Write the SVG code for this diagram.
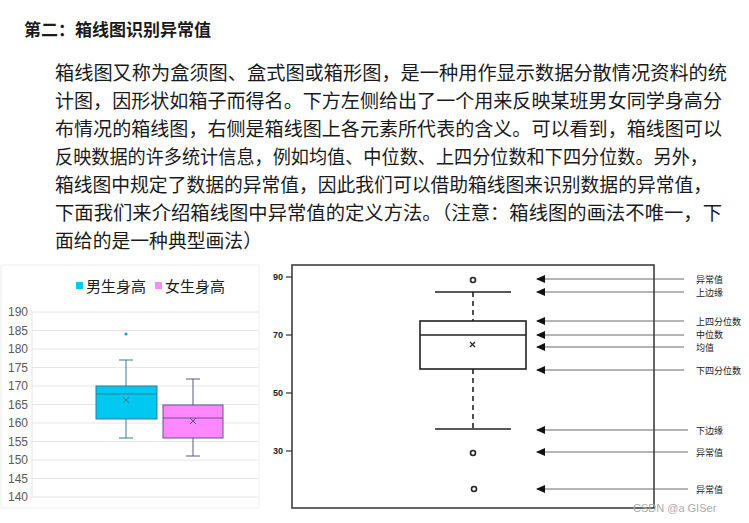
<svg xmlns="http://www.w3.org/2000/svg" width="749" height="523" viewBox="0 0 749 523">
<style>
.t{font-family:"Noto Sans CJK SC","Liberation Sans",sans-serif;fill:#1a1a1a}
.p{font-size:19px}
.ax{font-family:"Liberation Sans",sans-serif;font-size:12px;fill:#595959}
.ax2{font-family:"Liberation Sans",sans-serif;font-size:9px;fill:#222;font-weight:bold}
.lb{font-family:"Noto Sans CJK SC",sans-serif;font-size:9px;fill:#222}
.g{stroke:#e6e6e6;stroke-width:1}
.k{stroke:#222;fill:none;stroke-width:1.6}
</style>
<defs><marker id="ah" markerUnits="userSpaceOnUse" markerWidth="10" markerHeight="8" refX="8" refY="4" orient="auto"><path d="M9,4 L0,0 L0,8 Z" fill="#111"/></marker></defs>
<rect width="749" height="523" fill="#fff"/>
<g id="text">
<text class="t" x="24" y="36" font-size="17" font-weight="bold">第二：箱线图识别异常值</text>
<text class="t p" x="55" y="80" textLength="672" lengthAdjust="spacingAndGlyphs">箱线图又称为盒须图、盒式图或箱形图，是一种用作显示数据分散情况资料的统</text>
<text class="t p" x="55" y="108" textLength="667" lengthAdjust="spacingAndGlyphs">计图，因形状如箱子而得名。下方左侧给出了一个用来反映某班男女同学身高分</text>
<text class="t p" x="55" y="136" textLength="667" lengthAdjust="spacingAndGlyphs">布情况的箱线图，右侧是箱线图上各元素所代表的含义。可以看到，箱线图可以</text>
<text class="t p" x="55" y="164" textLength="653" lengthAdjust="spacingAndGlyphs">反映数据的许多统计信息，例如均值、中位数、上四分位数和下四分位数。另外，</text>
<text class="t p" x="55" y="192" textLength="657" lengthAdjust="spacingAndGlyphs">箱线图中规定了数据的异常值，因此我们可以借助箱线图来识别数据的异常值，</text>
<text class="t p" x="55" y="220" textLength="667" lengthAdjust="spacingAndGlyphs">下面我们来介绍箱线图中异常值的定义方法。（注意：箱线图的画法不唯一，下</text>
<text class="t p" x="55" y="248" textLength="207" lengthAdjust="spacingAndGlyphs">面给的是一种典型画法）</text>
</g>
<g id="left-chart">
<rect x="1" y="265" width="258" height="243" fill="#fff" stroke="#eee"/>
<rect x="76" y="282" width="7" height="7" fill="#00c8f0"/>
<text class="t" x="86" y="292" font-size="15" fill="#444">男生身高</text>
<rect x="155" y="282" width="7" height="7" fill="#ff88ff"/>
<text class="t" x="165" y="292" font-size="15" fill="#444">女生身高</text>
<g class="g">
<line x1="32" y1="312" x2="258" y2="312"/><line x1="32" y1="330.5" x2="258" y2="330.5"/><line x1="32" y1="349" x2="258" y2="349"/><line x1="32" y1="367.5" x2="258" y2="367.5"/><line x1="32" y1="386" x2="258" y2="386"/><line x1="32" y1="404.5" x2="258" y2="404.5"/><line x1="32" y1="423" x2="258" y2="423"/><line x1="32" y1="441.5" x2="258" y2="441.5"/><line x1="32" y1="460" x2="258" y2="460"/><line x1="32" y1="478.5" x2="258" y2="478.5"/><line x1="32" y1="497" x2="258" y2="497"/>
<line x1="32" y1="312" x2="32" y2="497"/>
</g>
<g class="ax" text-anchor="end">
<text x="28" y="316">190</text><text x="28" y="334.5">185</text><text x="28" y="353">180</text><text x="28" y="371.5">175</text><text x="28" y="390">170</text><text x="28" y="408.5">165</text><text x="28" y="427">160</text><text x="28" y="445.5">155</text><text x="28" y="464">150</text><text x="28" y="482.5">145</text><text x="28" y="501">140</text>
</g>
<g id="male" stroke="#3a7a90" stroke-width="1">
<line x1="126" y1="360" x2="126" y2="386"/><line x1="126" y1="419" x2="126" y2="438"/>
<line x1="119" y1="360" x2="133" y2="360"/><line x1="119" y1="438" x2="133" y2="438"/>
<rect x="96" y="386" width="61" height="33" fill="#00c8f0"/>
<line x1="96" y1="394" x2="157" y2="394"/>
<path d="M123,397 l6,6 M129,397 l-6,6"/>
<circle cx="126" cy="334" r="1.6" fill="#1aa0c0" stroke="none"/>
</g>
<g id="female" stroke="#5a5a80" stroke-width="1">
<line x1="193" y1="379" x2="193" y2="405"/><line x1="193" y1="438" x2="193" y2="456"/>
<line x1="186" y1="379" x2="200" y2="379"/><line x1="186" y1="456" x2="200" y2="456"/>
<rect x="163" y="405" width="60" height="33" fill="#ff88ff"/>
<line x1="163" y1="418" x2="223" y2="418"/>
<path d="M190,418 l6,6 M196,418 l-6,6"/>
</g>
</g>
<g id="right-chart">
<rect x="292" y="265" width="362" height="243" fill="none" stroke="#333" stroke-width="1.5"/>
<g stroke="#333" stroke-width="1.2"><line x1="286" y1="277" x2="292" y2="277"/><line x1="286" y1="335" x2="292" y2="335"/><line x1="286" y1="393" x2="292" y2="393"/><line x1="286" y1="451" x2="292" y2="451"/></g>
<g class="ax2" text-anchor="end"><text x="283" y="280">90</text><text x="283" y="338">70</text><text x="283" y="396">50</text><text x="283" y="454">30</text></g>
<g class="k">
<line x1="435" y1="292" x2="511" y2="292"/><line x1="435" y1="429" x2="511" y2="429"/>
<line x1="473" y1="292" x2="473" y2="321" stroke-dasharray="5,4"/><line x1="473" y1="369" x2="473" y2="429" stroke-dasharray="5,4"/>
<rect x="420" y="321" width="106" height="48"/>
<line x1="420" y1="335" x2="526" y2="335"/>
<path d="M470,342 l5,5 M475,342 l-5,5" stroke-width="1.2"/>
<circle cx="473" cy="280" r="2.5"/><circle cx="473" cy="453" r="2.5"/><circle cx="474" cy="489" r="2.5"/>
</g>
</g>
<g id="connectors" stroke="#444" stroke-width="0.8">
<line x1="684" y1="279" x2="537" y2="279" marker-end="url(#ah)"/>
<line x1="684" y1="292" x2="537" y2="292" marker-end="url(#ah)"/>
<line x1="684" y1="321" x2="537" y2="321" marker-end="url(#ah)"/>
<line x1="684" y1="335" x2="537" y2="335" marker-end="url(#ah)"/>
<line x1="684" y1="347" x2="537" y2="347" marker-end="url(#ah)"/>
<line x1="684" y1="370" x2="537" y2="370" marker-end="url(#ah)"/>
<line x1="688" y1="430" x2="537" y2="430" marker-end="url(#ah)"/>
<line x1="688" y1="452" x2="537" y2="452" marker-end="url(#ah)"/>
<line x1="688" y1="489" x2="537" y2="489" marker-end="url(#ah)"/>
</g>
<g id="labels" class="lb">
<text x="696" y="283">异常值</text><text x="696" y="296">上边缘</text><text x="696" y="325">上四分位数</text><text x="696" y="338">中位数</text><text x="696" y="350.5">均值</text><text x="696" y="374">下四分位数</text><text x="696" y="434">下边缘</text><text x="696" y="456">异常值</text><text x="696" y="493">异常值</text>
</g>
<text x="633" y="512" font-family="Liberation Sans,sans-serif" font-size="11" fill="#aaa">CSDN @a  GISer</text>
</svg>
